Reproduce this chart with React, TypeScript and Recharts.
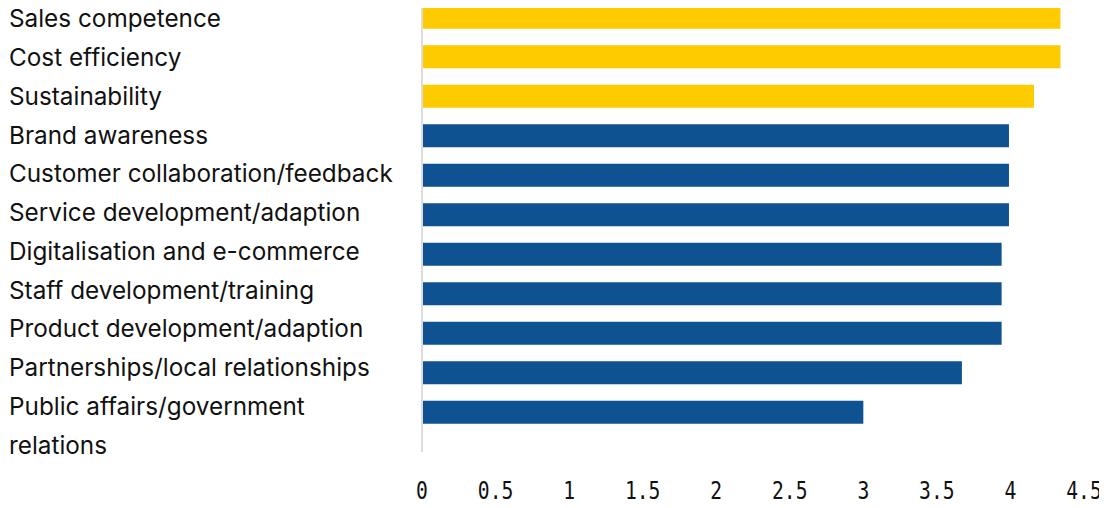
import React from "react";
import { BarChart, Bar, XAxis, YAxis, Cell } from "recharts";

const categories = [
  "Sales competence",
  "Cost efficiency",
  "Sustainability",
  "Brand awareness",
  "Customer collaboration/feedback",
  "Service development/adaption",
  "Digitalisation and e-commerce",
  "Staff development/training",
  "Product development/adaption",
  "Partnerships/local relationships",
  "Public affairs/government relations",
];

const values = [4.34, 4.34, 4.16, 3.99, 3.99, 3.99, 3.94, 3.94, 3.94, 3.67, 3.0];

const highlighted = ["Sales competence", "Cost efficiency", "Sustainability"];

const xTicks = [0, 0.5, 1, 1.5, 2, 2.5, 3, 3.5, 4, 4.5];

const data = categories.map((name, i) => ({ name, value: values[i] }));

const YELLOW = "#FECB00";
const BLUE = "#0F5291";

function wrap(text: string, max: number): string[] {
  const words = text.split(" ");
  const lines: string[] = [];
  let cur = "";
  for (const w of words) {
    const next = cur ? cur + " " + w : w;
    if (next.length > max && cur) {
      lines.push(cur);
      cur = w;
    } else {
      cur = next;
    }
  }
  if (cur) lines.push(cur);
  return lines;
}

const CategoryTick = (props: any) => {
  const { y, payload, index } = props;
  const lines = wrap(String(payload.value), 32);
  const shift = -0.73 * (index || 0);
  return (
    <text
      x={9}
      y={y + shift}
      textAnchor="start"
      fill="#111111"
      style={{ fontFamily: "Inter, 'Noto Sans', sans-serif", fontSize: 24.3 }}
    >
      {lines.map((l, i) => (
        <tspan key={i} x={9} dy={i === 0 ? 9.8 : 38.5}>
          {l}
        </tspan>
      ))}
    </text>
  );
};

const ValueTick = (props: any) => {
  const { x, y, payload } = props;
  return (
    <g transform={`translate(${x},${y})`}>
      <text
        transform="scale(0.82,1)"
        textAnchor="middle"
        dy="0.71em"
        fill="#111111"
        style={{ fontFamily: "'DejaVu Sans Mono', monospace", fontSize: 24 }}
      >
        {String(payload.value)}
      </text>
    </g>
  );
};

export default function App() {
  return (
    <div style={{ margin: -8 }}>
      <BarChart
        width={1107}
        height={508}
        data={data}
        layout="vertical"
        margin={{ top: 6, right: 23, left: 0, bottom: 0 }}
      >
        <XAxis
          type="number"
          domain={[0, 4.5]}
          ticks={xTicks}
          interval={0}
          axisLine={false}
          tickLine={false}
          tickMargin={24}
          height={56}
          tick={<ValueTick />}
        />
        <YAxis
          type="category"
          dataKey="name"
          width={422}
          axisLine={{ stroke: "#dddddd", strokeWidth: 2 }}
          tickLine={false}
          tick={<CategoryTick />}
          interval={0}
          padding={{ top: -8.25, bottom: 19.75 }}
        />
        <Bar dataKey="value" barSize={23} isAnimationActive={false}>
          {data.map((d, i) => (
            <Cell key={i} fill={highlighted.includes(d.name) ? YELLOW : BLUE} />
          ))}
        </Bar>
      </BarChart>
    </div>
  );
}
